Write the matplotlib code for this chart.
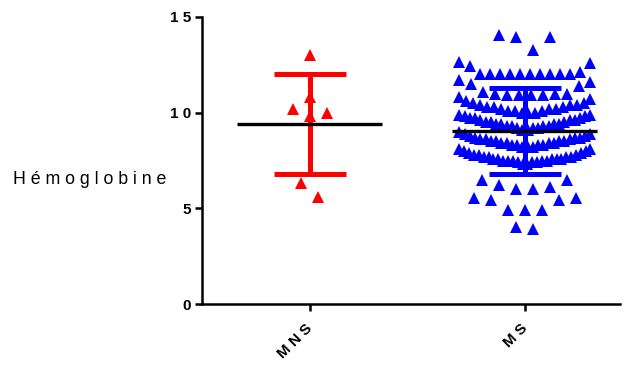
import numpy as np
import matplotlib.pyplot as plt

plt.rcParams['font.family'] = ['Liberation Sans', 'DejaVu Sans']

groups = ['M N S', 'M S']
colors = ['#ff0000', '#0000ff']

mns = [13.0, 10.8, 10.0, 9.8, 10.2, 6.3, 5.6]
ms = [3.9, 4.0,
      4.9, 4.9, 4.9, 5.45, 5.45, 5.55, 5.55,
      6.0, 6.0, 6.1, 6.2, 6.5, 6.5,
      7.3, 7.3, 7.4, 7.4, 7.4, 7.5, 7.5, 7.5, 7.5, 7.5, 7.6, 7.6, 7.6, 7.6, 7.6,
      7.7, 7.7, 7.7, 7.7, 7.8, 7.8, 7.8, 7.9, 7.9, 8.0, 8.0, 8.1, 8.1,
      8.2, 8.2, 8.2, 8.3, 8.3, 8.3, 8.3, 8.4, 8.4, 8.4, 8.4, 8.5, 8.5, 8.5, 8.5,
      8.6, 8.6, 8.6, 8.7, 8.7, 8.7, 8.8, 8.8, 8.9, 8.9, 9.0,
      9.1, 9.1, 9.2, 9.2, 9.2, 9.3, 9.3, 9.3, 9.3, 9.4, 9.4, 9.4, 9.4,
      9.5, 9.5, 9.5, 9.6, 9.6, 9.6, 9.7, 9.7, 9.7, 9.8, 9.8, 9.9, 9.9,
      10.0, 10.0, 10.0, 10.1, 10.1, 10.1, 10.2, 10.2, 10.2, 10.3, 10.3, 10.3,
      10.4, 10.4, 10.4, 10.5, 10.5, 10.6, 10.7, 10.8,
      10.9, 10.9, 10.9, 10.9, 11.0, 11.0, 11.0, 11.1, 11.4, 11.5, 11.6, 11.7,
      12.0, 12.0, 12.0, 12.0, 12.0, 12.0, 12.0, 12.0, 12.0, 12.0,
      12.1, 12.45, 12.6, 12.65,
      13.3, 13.95, 13.95, 14.05]

# mean and SD
means = [9.42, 9.04]
sds = [2.61, 2.26]


def swarm(values, h=0.85, max_w=131 / 215, max_step=17 / 215):
    vals = np.asarray(values, float)
    order = np.argsort(vals, kind='stable')
    xs = np.zeros(len(vals))
    i = 0
    while i < len(order):
        start = vals[order[i]]
        j = i
        while j < len(order) and vals[order[j]] < start + h - 1e-9:
            j += 1
        idx = order[i:j]
        n = len(idx)
        step = min(max_step, max_w / (n - 1)) if n > 1 else 0
        slots = (np.arange(n) - (n - 1) / 2) * step
        slot_order = sorted(range(n), key=lambda k: (abs(slots[k]), -slots[k]))
        for k, p in zip(slot_order, idx):
            xs[p] = slots[k]
        i = j
    return xs


fig = plt.figure(figsize=(6.25, 3.65), dpi=100)
ax = fig.add_axes([202 / 625, 61 / 365, 418 / 625, 287 / 365])

for i, data in enumerate([mns, ms]):
    x = i + swarm(data)
    ax.plot(x, data, '^', color=colors[i], ms=8.8, mew=0, zorder=2)
    lo, hi = means[i] - sds[i], means[i] + sds[i]
    ax.plot([i, i], [lo, hi], color=colors[i], lw=3.6, solid_capstyle='butt', zorder=3)
    ax.hlines([lo, hi], i - 0.167, i + 0.167, color=colors[i], lw=3.6, zorder=3)
    ax.hlines(means[i], i - 0.337, i + 0.337, color='black', lw=2.4, zorder=4)

ax.set_xlim(-0.502, 1.442)
ax.set_ylim(0, 15)
ax.set_yticks([0, 5, 10, 15])
ax.set_yticklabels(['0', '5', '1 0', '1 5'], fontweight='bold', fontsize=11)
ax.set_xticks([0, 1])
ax.set_xticklabels(groups, fontweight='bold', fontsize=11, rotation=45,
                   ha='right', va='center', rotation_mode='anchor')
ax.tick_params(axis='x', length=5, width=1.8, pad=11)
ax.tick_params(axis='y', length=5, width=1.8, pad=3)
for s in ['top', 'right']:
    ax.spines[s].set_visible(False)
for s in ['left', 'bottom']:
    ax.spines[s].set_linewidth(1.8)

ax.set_ylabel('H é m o g l o b i n e', rotation=0, fontsize=12.8,
              ha='left', va='center')
ax.yaxis.set_label_coords(-0.452, 0.433)

fig.savefig('out.png', dpi=100)
